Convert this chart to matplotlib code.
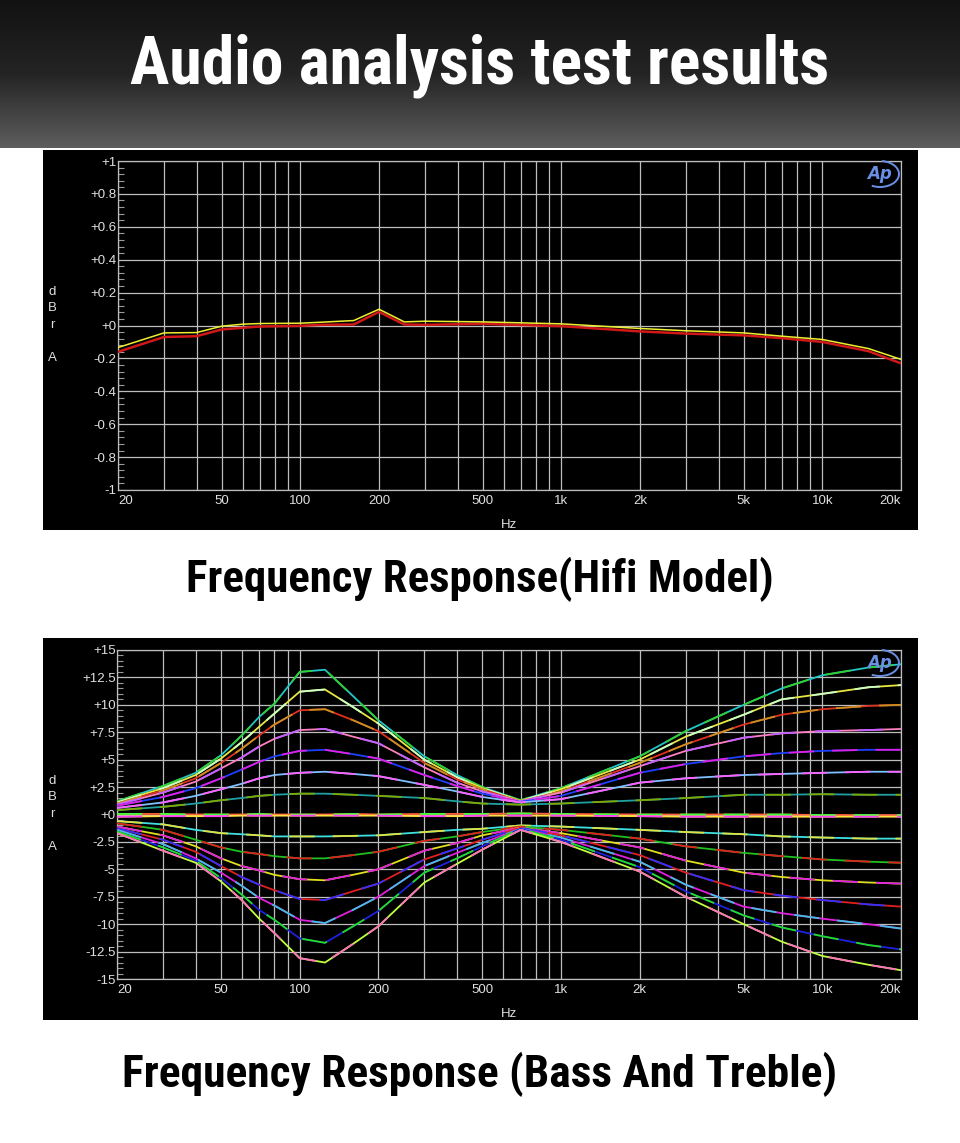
import numpy as np
import matplotlib
matplotlib.use("Agg")
from matplotlib import pyplot as plt
from matplotlib import font_manager
from matplotlib.patches import Rectangle, Arc
from matplotlib.colors import LinearSegmentedColormap
from matplotlib.ticker import FixedLocator, NullFormatter

W, H = 960, 1143

# ---------------- data ----------------
# Hifi model frequency response, two channels (dBr A)
hifi_freq = [20, 30, 40, 50, 60, 70, 100, 120, 160, 200, 250, 300, 500,
             1000, 2000, 3000, 5000, 7000, 10000, 15000, 20000]
hifi_yellow = [-0.134, -0.045, -0.043, -0.004, 0.008, 0.012, 0.014, 0.020, 0.030,
               0.099, 0.022, 0.026, 0.022, 0.010, -0.018, -0.032, -0.045, -0.065,
               -0.085, -0.140, -0.206]
hifi_red = [-0.160, -0.070, -0.065, -0.024, -0.014, -0.006, -0.002, 0.004, 0.006,
            0.083, 0.006, 0.004, 0.010, -0.004, -0.036, -0.049, -0.060, -0.077,
            -0.100, -0.156, -0.230]

# Bass and treble sweep
tone_freq = [20, 30, 40, 50, 60, 70, 80, 100, 125, 160, 200, 300, 400, 500, 700,
             1000, 2000, 3000, 5000, 7000, 10000, 15000, 20000]

boost_1 = [1.2, 2.6, 3.8, 5.4, 7.2, 8.9, 10.1, 13.0, 13.2, 10.8, 8.6, 5.3, 3.6, 2.5, 1.3,
           2.4, 5.3, 7.6, 10.0, 11.5, 12.7, 13.4, 13.7]
boost_2 = [1.1, 2.4, 3.6, 5.1, 6.6, 8.0, 9.2, 11.2, 11.4, 9.8, 8.3, 5.0, 3.4, 2.4, 1.25,
           2.3, 5.0, 7.1, 9.1, 10.5, 11.0, 11.6, 11.8]
boost_3 = [1.0, 2.2, 3.3, 4.7, 6.0, 7.2, 8.2, 9.5, 9.6, 8.6, 7.6, 4.7, 3.2, 2.3, 1.2,
           2.1, 4.7, 6.4, 8.2, 9.1, 9.6, 9.9, 10.0]
boost_4 = [0.9, 2.0, 3.0, 4.2, 5.2, 6.2, 6.9, 7.7, 7.8, 7.1, 6.5, 4.3, 2.9, 2.1, 1.2,
           2.0, 4.4, 5.8, 7.0, 7.4, 7.6, 7.7, 7.8]
boost_5 = [0.8, 1.6, 2.4, 3.3, 4.1, 4.8, 5.3, 5.8, 5.9, 5.5, 5.1, 3.6, 2.6, 1.9, 1.15,
           1.7, 3.8, 4.6, 5.3, 5.6, 5.8, 5.9, 5.9]
boost_6 = [0.6, 1.1, 1.7, 2.3, 2.8, 3.3, 3.6, 3.8, 3.9, 3.7, 3.5, 2.7, 2.1, 1.6, 1.1,
           1.4, 2.9, 3.3, 3.6, 3.7, 3.8, 3.9, 3.9]
boost_7 = [0.4, 0.7, 1.0, 1.3, 1.5, 1.7, 1.8, 1.9, 1.9, 1.8, 1.7, 1.5, 1.2, 1.0, 0.9,
           1.0, 1.3, 1.5, 1.8, 1.8, 1.85, 1.8, 1.8]
flat_a = [0.05, 0.05, 0.0, 0.0, 0.0, 0.05, 0.0, 0.0, 0.0, 0.05, 0.0, 0.05, 0.05, 0.05, 0.1,
          0.05, 0.0, 0.0, 0.0, 0.0, -0.05, -0.05, -0.05]
flat_b = [-0.2, -0.15, -0.15, -0.15, -0.1, -0.1, -0.1, -0.1, -0.1, -0.1, -0.1, -0.15, -0.15,
          -0.1, -0.1, -0.1, -0.15, -0.2, -0.2, -0.2, -0.2, -0.2, -0.2]
cut_1 = [-0.6, -0.9, -1.4, -1.7, -1.8, -1.9, -2.0, -2.0, -2.0, -1.95, -1.9, -1.6, -1.4, -1.3, -1.0,
         -1.1, -1.4, -1.6, -1.8, -2.0, -2.1, -2.2, -2.2]
cut_2 = [-0.8, -1.4, -2.3, -3.0, -3.4, -3.6, -3.8, -4.0, -4.0, -3.7, -3.4, -2.4, -2.0, -1.6, -1.1,
         -1.4, -2.2, -2.9, -3.5, -3.8, -4.1, -4.3, -4.4]
cut_3 = [-1.1, -1.9, -2.9, -4.0, -4.7, -5.1, -5.5, -5.9, -6.0, -5.5, -5.0, -3.3, -2.6, -1.9, -1.2,
         -1.7, -3.0, -4.2, -5.3, -5.7, -6.0, -6.2, -6.3]
cut_4 = [-1.25, -2.3, -3.4, -4.7, -5.7, -6.4, -6.9, -7.7, -7.8, -7.0, -6.3, -4.1, -3.1, -2.3, -1.2,
         -1.9, -3.7, -5.3, -6.9, -7.4, -7.8, -8.2, -8.4]
cut_5 = [-1.4, -2.7, -4.0, -5.3, -6.5, -7.6, -8.3, -9.6, -9.9, -8.7, -7.5, -4.7, -3.5, -2.6, -1.3,
         -2.1, -4.3, -6.4, -8.4, -9.0, -9.5, -10.0, -10.4]
cut_6 = [-1.55, -3.0, -4.2, -5.8, -7.3, -8.7, -9.6, -11.3, -11.7, -10.2, -8.8, -5.3, -4.0, -2.9, -1.3,
         -2.3, -4.8, -7.0, -9.2, -10.3, -11.1, -11.9, -12.3]
cut_7 = [-1.7, -3.3, -4.4, -6.1, -7.8, -9.5, -10.8, -13.1, -13.5, -11.8, -10.2, -6.2, -4.5, -3.2, -1.4,
         -2.5, -5.2, -7.5, -10.0, -11.6, -12.9, -13.7, -14.2]

tone_curves = [boost_1, boost_2, boost_3, boost_4, boost_5, boost_6, boost_7,
               flat_a, flat_b,
               cut_1, cut_2, cut_3, cut_4, cut_5, cut_6, cut_7]
# two channel colours per curve
tone_colors = [("#22c8c8", "#30d030"), ("#e8e840", "#c8ffc8"), ("#e03020", "#c89020"),
               ("#ff80c0", "#c060ff"), ("#2040ff", "#e020e0"), ("#80c0ff", "#ff60ff"),
               ("#20a0a0", "#80a800"),
               ("#ff6040", "#40ff40"), ("#ffe040", "#ff40ff"),
               ("#40e0e0", "#e0e040"), ("#20c020", "#e02020"), ("#e0e020", "#e020e0"),
               ("#e02020", "#3030ff"), ("#e020e0", "#40c0e0"), ("#2020e0", "#20e020"),
               ("#c0ff40", "#ff70c0")]

xtick_vals = [20, 50, 100, 200, 500, 1000, 2000, 5000, 10000, 20000]
xtick_text = ["20", "50", "100", "200", "500", "1k", "2k", "5k", "10k", "20k"]
grid_freq = [m * 10 ** e for e in (1, 2, 3) for m in range(1, 10) if m * 10 ** e >= 20] + [10000, 20000]

hifi_yticks = [1, 0.8, 0.6, 0.4, 0.2, 0, -0.2, -0.4, -0.6, -0.8, -1]
hifi_ylabels = ["+1", "+0.8", "+0.6", "+0.4", "+0.2", "+0", "-0.2", "-0.4", "-0.6", "-0.8", "-1"]
tone_yticks = [15, 12.5, 10, 7.5, 5, 2.5, 0, -2.5, -5, -7.5, -10, -12.5, -15]
tone_ylabels = ["+15", "+12.5", "+10", "+7.5", "+5", "+2.5", "+0", "-2.5", "-5", "-7.5",
                "-10", "-12.5", "-15"]


def pick_font(names):
    for n in names:
        try:
            font_manager.findfont(n, fallback_to_default=False)
            return n
        except Exception:
            pass
    return "DejaVu Sans"


head_font = pick_font(["Roboto Condensed", "Liberation Sans Narrow", "Roboto", "DejaVu Sans"])
tick_font = pick_font(["Liberation Sans", "Arial", "DejaVu Sans"])

fig = plt.figure(figsize=(W / 100, H / 100), dpi=100, facecolor="white")


def fx(x):
    return x / W


def fy(y):
    return 1 - y / H


def box(l, t, r, b):
    return [fx(l), fy(b), (r - l) / W, (b - t) / H]


# header with dark gradient
hdr = fig.add_axes(box(0, 0, 960, 148))
grad = np.linspace(0, 1, 256).reshape(-1, 1)
cmap = LinearSegmentedColormap.from_list("hdr", ["#121212", "#242424", "#5e5e5e"])
hdr.imshow(grad, aspect="auto", cmap=cmap)
hdr.axis("off")

# black panels
for t, b in [(150, 530), (638, 1020)]:
    fig.add_artist(Rectangle((fx(43), fy(b)), 875 / W, (b - t) / H, transform=fig.transFigure,
                             facecolor="black", edgecolor="none", zorder=0))

renderer = fig.canvas.get_renderer()


def fit_text(x, y, s, width, **kw):
    t = fig.text(fx(x), fy(y), s, ha="center", va="baseline", fontsize=30, **kw)
    bb = t.get_window_extent(renderer)
    t.set_fontsize(30 * width / bb.width)
    return t


fit_text(480, 84, "Audio analysis test results", 700, color="white",
         family=head_font, fontweight="bold")
fit_text(480, 592, "Frequency Response(Hifi Model)", 588, color="black",
         family=head_font, fontweight="bold")
fit_text(480, 1087, "Frequency Response (Bass And Treble)", 716, color="black",
         family=head_font, fontweight="bold")

label_col = "#e0e0e0"
grid_col = "#bdbdbd"
fs = 9.5


def setup_axes(rect, ylim, yticks, ylabels, minor_step, top_y):
    ax = fig.add_axes(rect)
    ax.set_facecolor("black")
    ax.set_xscale("log")
    ax.set_xlim(20, 20000)
    ax.set_ylim(*ylim)
    ax.xaxis.set_major_locator(FixedLocator(grid_freq))
    ax.xaxis.set_minor_locator(FixedLocator([]))
    ax.xaxis.set_major_formatter(NullFormatter())
    ax.xaxis.set_minor_formatter(NullFormatter())
    ax.set_yticks(yticks)
    ax.set_yticklabels(ylabels)
    minors = np.arange(ylim[0], ylim[1] + minor_step / 2, minor_step)
    ax.yaxis.set_minor_locator(FixedLocator(minors))
    ax.tick_params(axis="x", which="both", length=0)
    ax.tick_params(axis="y", which="major", length=0, pad=1.0, labelsize=fs,
                   labelcolor=label_col)
    ax.tick_params(axis="y", which="minor", length=4, direction="in", color="#9a9a9a", width=0.8)
    for lab in ax.get_yticklabels():
        lab.set_family(tick_font)
    ax.grid(True, which="major", color=grid_col, linewidth=0.9)
    for sp in ax.spines.values():
        sp.set_color(grid_col)
        sp.set_linewidth(0.9)
    xt = ax.get_xaxis_transform()
    for v, s in zip(xtick_vals, xtick_text):
        ha = "center"
        if v == 20:
            ha = "left"
        elif v == 20000:
            ha = "right"
        ax.text(v, -0.032, s, transform=xt, ha=ha, va="center", color=label_col,
                fontsize=fs, family=tick_font)
    # axis titles
    fig.text(fx(509), fy(top_y + 364), "Hz", ha="center", va="center", color=label_col,
             fontsize=fs, family=tick_font)
    for ch, dy in zip("dBrA", (131, 147, 164, 197)):
        fig.text(fx(52), fy(top_y + dy), ch, ha="center", va="center", color=label_col,
                 fontsize=fs, family=tick_font)
    # AP logo
    lx, ly = 880, top_y + 13
    fig.text(fx(lx - 1), fy(ly), "Ap", ha="center", va="center", color="#6a90e6",
             fontsize=12, fontstyle="italic", fontweight="bold", family="DejaVu Sans")
    fig.add_artist(Arc((fx(lx), fy(ly)), 38 / W, 26 / H, theta1=-130, theta2=80,
                       transform=fig.transFigure, color="#6a90e6", lw=1.4))
    return ax


ax1 = setup_axes(box(118, 161, 901, 490), (-1, 1), hifi_yticks, hifi_ylabels, 0.04, 161)
ax1.plot(hifi_freq, hifi_red, color="#d01818", lw=1.8, zorder=3)
ax1.plot(hifi_freq, hifi_yellow, color="#eeee30", lw=1.1, zorder=4)

ax2 = setup_axes(box(117, 650, 901, 979), (-15, 15), tone_yticks, tone_ylabels, 0.5, 650)
for vals, (c1, c2) in zip(tone_curves, tone_colors):
    ax2.plot(tone_freq, vals, color=c1, lw=1.3, zorder=3)
    ax2.plot(tone_freq, vals, color=c2, lw=1.3, zorder=3, dashes=(14, 10))

fig.savefig("out.png", dpi=100, facecolor="white")
